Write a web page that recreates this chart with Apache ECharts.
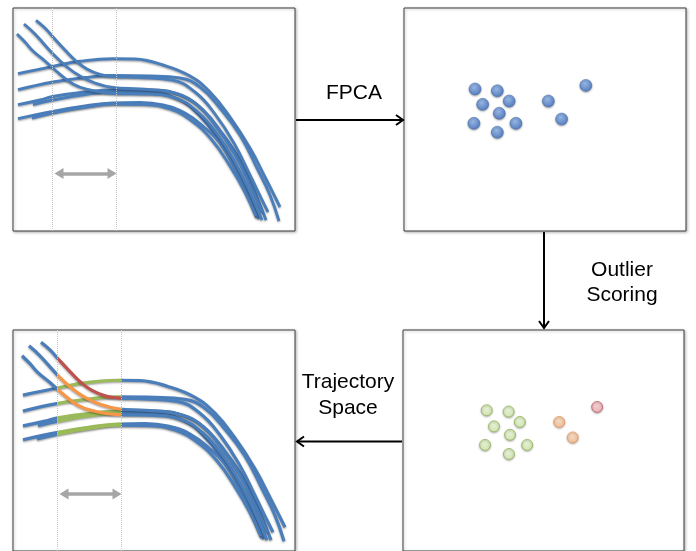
<!DOCTYPE html>
<html><head><meta charset="utf-8">
<script src="https://cdn.jsdelivr.net/npm/echarts@6/dist/echarts.min.js"></script>
<style>html,body{margin:0;padding:0;background:#fff}#c{width:696px;height:551px}</style>
</head><body><div id="c"></div>
<script>
// ---- Trajectories [time, value] (panel units: time 0–282, value 0–223)
const trajF1  = [[5,157.3],[40,164.7],[67,169.7],[100,172.3],[122,172],[150,166],[177,155],[197,139],[217,114],[237,83],[252,54],[267,24]];
const trajF2  = [[5,141.3],[40,149],[72,153.5],[100,155.5],[137,155],[167,153],[187,144],[207,123],[227,96],[245,61],[257,36],[266,10]];
const trajS1  = [[23,210.7],[32,203],[40,194],[52,181],[63,170],[74,162],[87,156.5],[100,154.5],[127,153.5],[159,151],[182,139],[202,117],[222,86],[237,56],[249,31],[255,19]];
const trajS2  = [[11,207],[22,197],[40,177],[54,164],[67,155],[82,148],[100,143.5],[127,142],[157,139],[182,128],[202,106],[222,76],[237,46],[249,18]];
const trajS3  = [[4,197],[12,189],[20,180],[32,170],[42,161],[60,147],[77,141],[100,137.5],[132,137],[162,133],[185,119],[205,96],[222,69],[237,39],[249,11]];
const trajF3  = [[5,126.3],[27,131],[40,134.5],[72,139],[100,141],[137,141],[167,136],[190,121],[209,98],[227,71],[239,46],[253,11]];
const trajF3b = [[20,126.5],[40,131],[72,136.5],[100,139],[137,138.5],[165,132],[187,115],[207,89],[225,59],[237,33],[246,12]];
const trajF4  = [[5,112.3],[40,119.7],[72,125],[100,128],[127,128.5],[150,126],[172,118],[192,103],[207,88],[220,66],[232,41],[244,13]];
const trajF4b = [[19,113],[47,119.5],[77,124.5],[100,127],[132,126.5],[157,122],[179,110],[199,91],[217,65],[232,39],[243,15]];
const trajectories    = [trajF1, trajF2, trajF3, trajF3b, trajF4, trajF4b, trajS2, trajS3, trajS1];
const trajectoryClass = ['inlier','inlier','inlier','inlier','inlier','inlier','moderate','moderate','outlier'];

// time window of interest (between dotted lines) and the double arrow height
const windowStart = 39, windowEnd = 103;
const windowArrowY = 57.5;

// ---- FPCA score space (units 0–100)
const fpcaScores = [[25.2,63.7],[33.1,62.9],[37.3,58.3],[27.9,56.8],[33.8,52.8],[24.8,48.3],[39.7,48.3],[33.1,44.3],[51.2,58.3],[55.9,50.2],[64.5,65.3]];
// ---- scored points, by outlier class
const scoredInlier   = [[29.8,63.7],[37.6,63.1],[41.6,58.4],[32.4,56.4],[38.1,52.6],[29.2,48.0],[44.2,48.0],[37.7,43.9]];
const scoredModerate = [[55.6,58.4],[60.4,51.4]];
const scoredOutlier  = [[69.1,65.2]];

// ---- step labels
const stepFPCA    = 'FPCA';
const stepScoring = ['Outlier','Scoring'];
const stepBack    = ['Trajectory','Space'];

const BLUE = '#4a7ebb';
const classColor = {inlier:'#9bbb59', moderate:'#f79646', outlier:'#c0504d'};

const chart = echarts.init(document.getElementById('c'), null, {renderer:'canvas'});

const gridBase = {show:true, backgroundColor:'#fff', borderColor:'#3f3f3f', borderWidth:1,
  shadowColor:'rgba(0,0,0,0.28)', shadowBlur:3, shadowOffsetX:1, shadowOffsetY:1};
const grids = [
  Object.assign({left:13, top:8, width:282, height:223}, gridBase),
  Object.assign({left:404, top:8, width:282, height:223}, gridBase),
  Object.assign({left:13, top:330, width:282, height:223}, gridBase),
  Object.assign({left:403, top:330, width:281, height:223}, gridBase)
];
const xAxes = [
  {gridIndex:0, type:'value', min:0, max:282, show:false},
  {gridIndex:1, type:'value', min:0, max:100, show:false},
  {gridIndex:2, type:'value', min:-5, max:277, show:false},
  {gridIndex:3, type:'value', min:0, max:100, show:false}
];
const yAxes = [
  {gridIndex:0, type:'value', min:0, max:223, show:false},
  {gridIndex:1, type:'value', min:0, max:100, show:false},
  {gridIndex:2, type:'value', min:0, max:223, show:false},
  {gridIndex:3, type:'value', min:0, max:100, show:false}
];

const series = [];
const lineShadow = {shadowColor:'rgba(0,0,0,0.35)', shadowBlur:2, shadowOffsetY:1.2};
const bottomByClass = {inlier:[], moderate:[], outlier:[]};

function markerSeries(ax) {
  series.push({type:'line', xAxisIndex:ax, yAxisIndex:ax, data:[], silent:true,
    markLine:{silent:true, symbol:['none','none'], label:{show:false},
      lineStyle:{type:'dotted', color:'#c4c4c4', width:1},
      data:[{xAxis:windowStart},{xAxis:windowEnd}]}});
  series.push({type:'line', xAxisIndex:ax, yAxisIndex:ax, data:[], silent:true, z:5,
    markLine:{silent:true, symbol:['triangle','triangle'], symbolSize:[11,9], label:{show:false},
      lineStyle:{type:'solid', color:'#a6a6a6', width:3.5},
      data:[[{coord:[windowStart+7, windowArrowY]},{coord:[windowEnd-4, windowArrowY]}]]}});
}
markerSeries(0);
markerSeries(2);

[0,2].forEach(ax => {
  trajectories.forEach((tr, i) => {
    const cls = trajectoryClass[i];
    if (ax === 2) bottomByClass[cls].push(series.length);
    series.push({type:'line', xAxisIndex:ax, yAxisIndex:ax, data:tr, smooth:0.45, symbol:'none',
      color: BLUE,
      z: ax === 2 ? (cls === 'outlier' ? 4 : cls === 'moderate' ? 3 : 2) : 2,
      lineStyle:Object.assign({width: ax === 2 ? 3.2 : 2.9}, lineShadow), silent:true});
  });
});

series.push({type:'scatter', xAxisIndex:1, yAxisIndex:1, data:fpcaScores, symbolSize:12, silent:true,
  itemStyle:{color:{type:'radial', x:0.42, y:0.35, r:0.7, colorStops:[{offset:0,color:'#8fb7f0'},{offset:1,color:'#3b6cbf'}]},
    borderColor:'#3a67ad', borderWidth:0.6, shadowColor:'rgba(0,0,0,0.4)', shadowBlur:2, shadowOffsetY:1}});

function scored(data, c0, c1, border) {
  series.push({type:'scatter', xAxisIndex:3, yAxisIndex:3, data:data, symbolSize:11, silent:true,
    itemStyle:{color:{type:'radial', x:0.45, y:0.4, r:0.7, colorStops:[{offset:0,color:c0},{offset:1,color:c1}]},
      borderColor:border, borderWidth:1, shadowColor:'rgba(0,0,0,0.3)', shadowBlur:2, shadowOffsetY:1}});
}
scored(scoredInlier, '#eefadb', '#cdeba0', '#97b65c');
scored(scoredModerate, '#fde0c6', '#fbb47c', '#f09a5c');
scored(scoredOutlier, '#fbd3d6', '#f2a1a8', '#c4606a');

const visualMap = ['inlier','moderate','outlier'].map(cls => ({
  type:'piecewise', show:false, dimension:0, seriesIndex:bottomByClass[cls],
  pieces:[{lt:windowStart, color:BLUE},{gte:windowStart, lte:windowEnd, color:classColor[cls]},{gt:windowEnd, color:BLUE}]
}));

const FONT = '21px "Liberation Sans", Arial, sans-serif';
function txt(t, x, y) {
  return {type:'text', x:x, y:y, z:100, silent:true,
    style:{text:t, fill:'#000', font:FONT, align:'center', verticalAlign:'middle'}};
}
function seg(x1,y1,x2,y2) {
  return {type:'line', z:100, silent:true, shape:{x1,y1,x2,y2}, style:{stroke:'#000', lineWidth:2}};
}
function head(pts) {
  return {type:'polyline', z:100, silent:true, shape:{points:pts}, style:{stroke:'#000', lineWidth:2, fill:null}};
}
const graphic = [
  seg(296,120,403,120), head([[396,115],[403,120],[396,125]]),
  seg(544,232,544,328), head([[539,321],[544,328],[549,321]]),
  seg(402,441.5,297,441.5), head([[304,436.5],[297,441.5],[304,446.5]]),
  txt(stepFPCA, 354, 93),
  txt(stepScoring[0], 622, 270), txt(stepScoring[1], 622, 295),
  txt(stepBack[0], 348, 382.5), txt(stepBack[1], 348, 408)
];

chart.setOption({animation:false, backgroundColor:'#fff', grid:grids, xAxis:xAxes, yAxis:yAxes,
  visualMap:visualMap, series:series, graphic:graphic});
</script></body></html>
